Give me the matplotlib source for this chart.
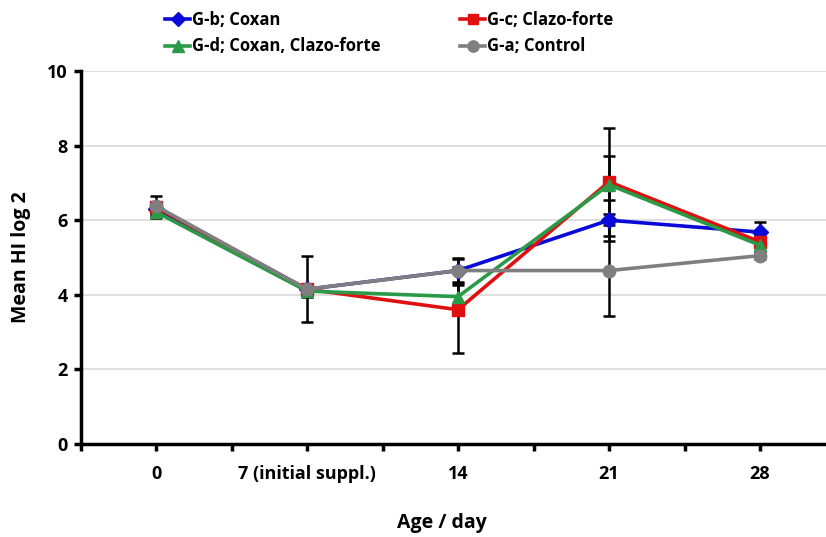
import matplotlib
matplotlib.use("Agg")
import matplotlib.pyplot as plt
from matplotlib.ticker import MultipleLocator, FixedLocator

plt.rcParams['font.family'] = ['Open Sans', 'DejaVu Sans']

categories = ["0", "7 (initial suppl.)", "14", "21", "28"]

gb_coxan = [6.30, 4.15, 4.65, 6.00, 5.68]
gc_clazo = [6.35, 4.15, 3.60, 7.03, 5.42]
gd_both = [6.22, 4.10, 3.95, 6.95, 5.33]
ga_control = [6.38, 4.15, 4.65, 4.65, 5.05]

gb_err = [0.15, 0.15, 0.30, 0.55, 0.28]
gc_err = [0.15, 0.15, 1.15, 1.45, 0.15]
gd_err = [0.15, 0.15, 0.30, 0.78, 0.15]
ga_err = [0.27, 0.88, 0.33, 1.21, 0.10]

series = [
    ("G-b; Coxan", gb_coxan, gb_err, "#0a0ad8", "D", 8),
    ("G-c; Clazo-forte", gc_clazo, gc_err, "#e01010", "s", 8),
    ("G-d; Coxan, Clazo-forte", gd_both, gd_err, "#2a9a48", "^", 9),
    ("G-a; Control", ga_control, ga_err, "#7f7f7f", "o", 9),
]

fig = plt.figure(figsize=(8.26, 5.37), dpi=100)
ax = fig.add_axes([80.5 / 826, 93 / 537, 755 / 826, 373 / 537])

x = list(range(len(categories)))
handles = {}
for i, (label, vals, err, col, mk, ms) in enumerate(series):
    ax.errorbar(x, vals, yerr=err, fmt='none', ecolor='black', elinewidth=1.8,
                capsize=4, capthick=1.8, zorder=2)
for i, (label, vals, err, col, mk, ms) in enumerate(series):
    h, = ax.plot(x, vals, color=col, lw=2.6, marker=mk, markersize=ms,
                 markerfacecolor=col, markeredgecolor=col, zorder=3 + i,
                 label=label)
    handles[label] = h

ax.set_xlim(-0.5, 4.5)
ax.set_ylim(0, 10)
ax.yaxis.set_major_locator(MultipleLocator(2))
ax.xaxis.set_major_locator(FixedLocator(x))
ax.xaxis.set_minor_locator(FixedLocator([i - 0.5 for i in range(6)]))
ax.set_xticks(x)
ax.set_xticklabels(categories, fontsize=13, fontweight='bold')
for t in ax.get_yticklabels():
    t.set_fontweight('bold')
    t.set_fontsize(13)

ax.grid(axis='y', color='#d9d9d9', lw=1.2, zorder=0)
ax.set_axisbelow(True)
for s in ['top', 'right']:
    ax.spines[s].set_visible(False)
for s in ['left', 'bottom']:
    ax.spines[s].set_linewidth(2.5)
    ax.spines[s].set_color('black')

ax.tick_params(axis='x', which='both', direction='out', length=5, width=2.5, pad=10)
ax.tick_params(axis='y', which='major', direction='out', length=5, width=2.5, pad=4)

ax.set_xlabel("Age / day", fontsize=14, fontweight='bold', va='top')
ax.xaxis.set_label_coords(0.479, -0.185)
ax.set_ylabel("Mean HI log 2", fontsize=14, fontweight='bold')
ax.yaxis.set_label_coords(-0.066, 0.5)

order = ["G-b; Coxan", "G-d; Coxan, Clazo-forte", "G-c; Clazo-forte", "G-a; Control"]
fig.legend([handles[k] for k in order], order, loc='upper left',
           bbox_to_anchor=(150 / 826, 1 + 4 / 537), ncol=2, frameon=False,
           prop={'weight': 'bold', 'size': 12}, handlelength=1.5,
           handletextpad=0.1, columnspacing=4.8, labelspacing=0.5,
           markerscale=0.9)

fig.savefig("out.png", dpi=100)
